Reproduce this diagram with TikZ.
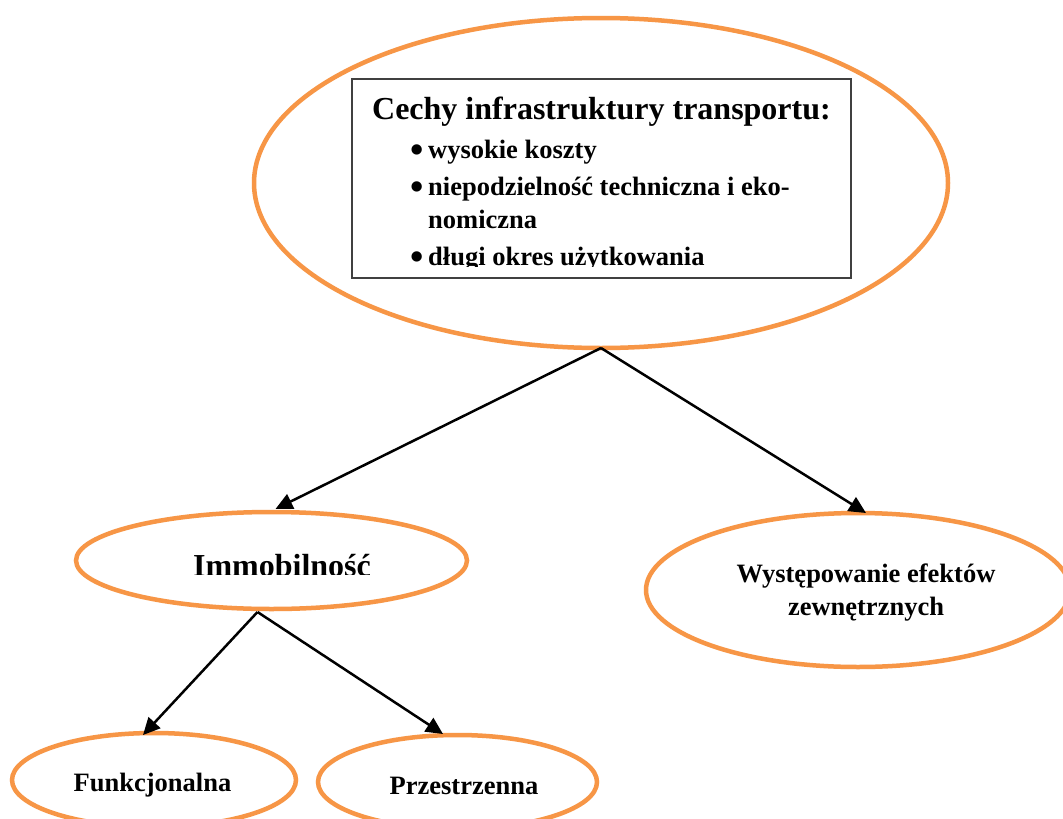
\documentclass[tikz,border=0pt]{standalone}
\usepackage{fontspec}
\setmainfont{Liberation Serif}
\usetikzlibrary{shapes.geometric,arrows.meta,calc}
\definecolor{ora}{HTML}{F79646}
\definecolor{boxgray}{HTML}{404040}
\begin{document}
\begin{tikzpicture}[x=1pt,y=-1pt,
  oval/.style={ellipse, draw=ora, line width=4.5pt, inner sep=0pt, outer sep=0pt},
  conn/.style={line width=2.5pt, -{Triangle[length=17pt,width=16pt]}},
  big/.style={font=\bfseries\fontsize{32}{38}\selectfont, inner sep=0pt},
  txt/.style={font=\bfseries\fontsize{26.5}{33}\selectfont, inner sep=0pt},
  dot/.style={font=\bfseries\fontsize{38}{40}\selectfont, inner sep=0pt, anchor=base}]
\clip (0,0) rectangle (1063,819);
\fill[white] (0,0) rectangle (1063,819);
% ellipses
\node[oval, minimum width=694pt, minimum height=330pt] (top) at (601,183) {};
\node[oval, minimum width=391pt, minimum height=97pt] (immo) at (271.5,560.5) {};
\node[oval, minimum width=424pt, minimum height=154pt] (ext) at (858,590) {};
\node[oval, minimum width=284pt, minimum height=94pt] (funk) at (154,780) {};
\node[oval, minimum width=279pt, minimum height=94pt] (przes) at (457.5,782) {};
% box
\node[draw=boxgray, line width=1.5pt, minimum width=499pt, minimum height=199pt, inner sep=0pt] (box) at (601.5,178.5) {};
\node[big, anchor=base] (title) at (601.5,119) {Cechy infrastruktury transportu:};
\node[dot] (d1) at (417,162) {•};
\node[txt, anchor=base west] (t1) at (428,158) {wysokie koszty};
\node[dot] (d2) at (417,199) {•};
\node[txt, anchor=base west] (t2) at (428,195) {niepodzielność techniczna i eko-};
\node[txt, anchor=base west] (t2b) at (428,228) {nomiczna};
\begin{scope}
\clip (352,79) rectangle (851,266);
\node[dot] (d3) at (417,269) {•};
\node[txt, anchor=base west] (t3) at (428,265) {długi okres użytkowania};
\end{scope}
% texts
\begin{scope}
\clip (0,0) rectangle (1063,574);
\node[big, anchor=base] (ti) at (282,576) {Immobilność};
\end{scope}
\node[txt, anchor=base] (te1) at (866,582) {Występowanie efektów};
\node[txt, anchor=base] (te2) at (866,615) {zewnętrznych};
\node[txt, anchor=base] (tf) at (152.5,791) {Funkcjonalna};
\node[txt, anchor=base] (tp) at (464,794) {Przestrzenna};
% connectors
\draw[conn] (top.south) -- ($(immo.north)+(4,-3)$);
\draw[conn] (top.south) -- ($(ext.north)+(8,0)$);
\draw[conn] ($(immo.south)+(-14,3)$) -- ($(funk.north)+(-11,2)$);
\draw[conn] ($(immo.south)+(-14,3)$) -- ($(przes.north)+(-14.5,-1)$);
\end{tikzpicture}
\end{document}
